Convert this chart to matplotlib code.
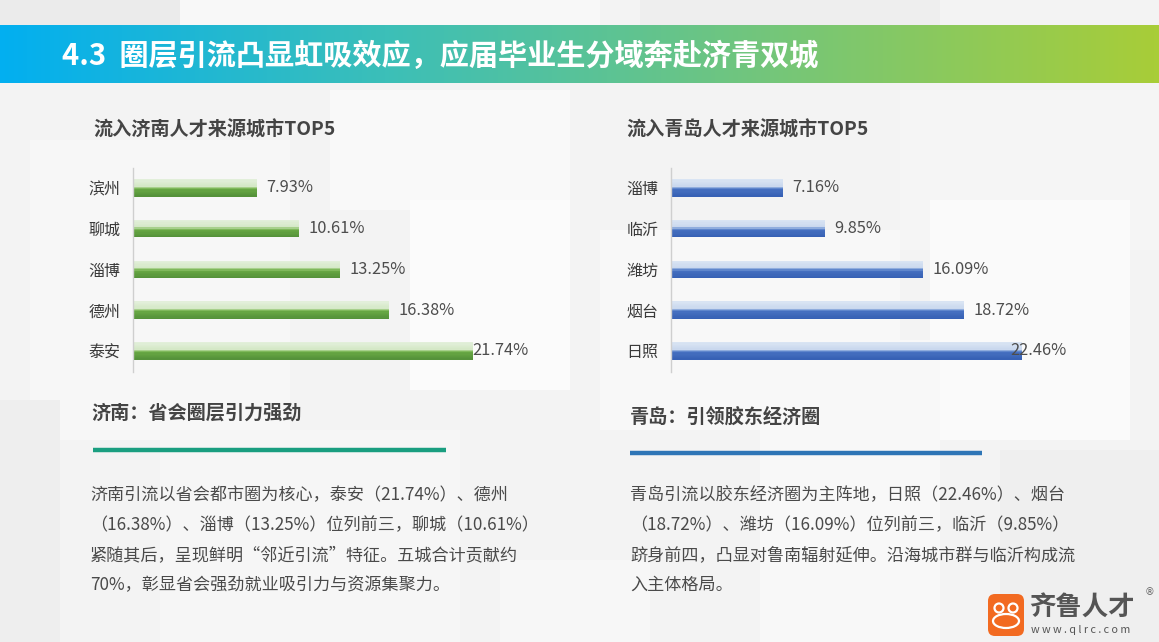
import numpy as np
import matplotlib.pyplot as plt
from matplotlib.colors import LinearSegmentedColormap
from matplotlib.patches import Rectangle, FancyBboxPatch, Ellipse

plt.rcParams['font.family'] = ['Noto Sans CJK SC', 'DejaVu Sans']

# ==========================================
# DATA
# ==========================================
page_title = "4.3  圈层引流凸显虹吸效应，应届毕业生分域奔赴济青双城"

jinan_title = "流入济南人才来源城市TOP5"
jinan_cities = ["滨州", "聊城", "淄博", "德州", "泰安"]
jinan_values = [7.93, 10.61, 13.25, 16.38, 21.74]

qingdao_title = "流入青岛人才来源城市TOP5"
qingdao_cities = ["淄博", "临沂", "潍坊", "烟台", "日照"]
qingdao_values = [7.16, 9.85, 16.09, 18.72, 22.46]

jinan_heading = "济南：省会圈层引力强劲"
jinan_body = [
    "济南引流以省会都市圈为核心，泰安（21.74%）、德州",
    "（16.38%）、淄博（13.25%）位列前三，聊城（10.61%）",
    "紧随其后，呈现鲜明“邻近引流”特征。五城合计贡献约",
    "70%，彰显省会强劲就业吸引力与资源集聚力。",
]

qingdao_heading = "青岛：引领胶东经济圈"
qingdao_body = [
    "青岛引流以胶东经济圈为主阵地，日照（22.46%）、烟台",
    "（18.72%）、潍坊（16.09%）位列前三，临沂（9.85%）",
    "跻身前四，凸显对鲁南辐射延伸。沿海城市群与临沂构成流",
    "入主体格局。",
]

# ==========================================
# FIGURE / BACKGROUND
# ==========================================
W, H = 1159, 642
fig = plt.figure(figsize=(W / 100, H / 100), dpi=100, facecolor='#f3f3f3')

def box(x0, y0, x1, y1):
    return [x0 / W, 1 - y1 / H, (x1 - x0) / W, (y1 - y0) / H]

bg = fig.add_axes([0, 0, 1, 1])
bg.set_xlim(0, W)
bg.set_ylim(H, 0)
bg.axis('off')

# soft geometric tiles in the backdrop
tiles = [(0, 0, 180, 25, '#ebebeb'), (180, 0, 420, 25, '#f8f8f8'),
         (640, 0, 300, 25, '#eeeeee'), (30, 140, 260, 300, '#f7f7f7'),
         (330, 90, 240, 120, '#f9f9f9'), (410, 200, 160, 190, '#fbfbfb'),
         (600, 230, 300, 200, '#f8f8f8'), (900, 90, 259, 160, '#f5f5f5'),
         (930, 200, 200, 240, '#fafafa'), (160, 430, 300, 212, '#f6f6f6'),
         (760, 340, 180, 302, '#f8f8f8'), (1000, 450, 159, 192, '#efefef'),
         (0, 400, 60, 242, '#eeeeee'), (500, 560, 150, 82, '#f7f7f7')]
for x, y, w, h, c in tiles:
    bg.add_patch(Rectangle((x, y), w, h, color=c, lw=0, zorder=0))

# title banner
banner_cmap = LinearSegmentedColormap.from_list(
    'banner', ['#02aff0', '#3cbfb8', '#74c67a', '#a8cd38'])
bg.imshow(np.linspace(0, 1, 256)[None, :], cmap=banner_cmap, aspect='auto',
          extent=[0, W, 83, 25], zorder=2)
bg.set_xlim(0, W)
bg.set_ylim(H, 0)
bg.text(62, 56, page_title, color='white', fontsize=21, fontweight='bold',
        va='center', ha='left', zorder=3)

# ==========================================
# BAR CHARTS
# ==========================================
green_cmap = LinearSegmentedColormap.from_list(
    'g', [(0, '#e2efda'), (0.4, '#d4e8c6'), (0.5, '#8dc26a'),
          (0.6, '#67a743'), (1.0, '#55923a')])
blue_cmap = LinearSegmentedColormap.from_list(
    'b', [(0, '#d9e4f3'), (0.4, '#c9d8ee'), (0.5, '#6e93d3'),
          (0.6, '#4670c0'), (1.0, '#3761b5')])

def draw_chart(rect, cities, values, cmap):
    ax = fig.add_axes(rect)
    ax.patch.set_alpha(0)
    ax.set_xlim(0, 27.3)
    ax.set_ylim(len(cities) - 1 + 0.52, -0.49)
    pos = np.arange(len(cities))
    bar_h = 0.43
    n = 14
    for i in range(n):
        off = -bar_h / 2 + (i + 0.5) * bar_h / n
        ax.barh(pos + off, values, height=bar_h / n + 0.002,
                color=cmap(i / (n - 1)), linewidth=0)
    for p, v in zip(pos, values):
        ax.text(min(v + 0.6, 21.7), p, f'{v:.2f}%', va='center', ha='left',
                fontsize=11.8, color='#4d4d4d', fontweight='medium')
    ax.set_yticks(pos)
    ax.set_yticklabels(cities, fontsize=11.5, color='#3a3a3a', fontweight='medium')
    ax.set_xticks([])
    ax.tick_params(axis='y', length=0, pad=9)
    for s in ['top', 'right', 'bottom']:
        ax.spines[s].set_visible(False)
    ax.spines['left'].set_color('#cfcfcf')
    ax.spines['left'].set_linewidth(1)
    return ax

draw_chart(box(133, 168, 560, 372), jinan_cities, jinan_values, green_cmap)
draw_chart(box(671, 168, 1098, 372), qingdao_cities, qingdao_values, blue_cmap)

bg.text(93, 130, jinan_title, fontsize=13.8, fontweight='bold', color='#444444',
        va='center', ha='left', zorder=3)
bg.text(626, 130, qingdao_title, fontsize=13.8, fontweight='bold', color='#444444',
        va='center', ha='left', zorder=3)

# ==========================================
# TEXT SECTIONS
# ==========================================
bg.text(91, 413, jinan_heading, fontsize=13.8, fontweight='bold', color='#444444',
        va='center', ha='left', zorder=3)
bg.plot([93, 446], [450, 450], color='#1a9e80', lw=3.2, solid_capstyle='butt', zorder=3)
bg.text(630, 417, qingdao_heading, fontsize=13.8, fontweight='bold', color='#444444',
        va='center', ha='left', zorder=3)
bg.plot([630, 982], [453, 453], color='#2e75b6', lw=3.2, solid_capstyle='butt', zorder=3)

for k, line in enumerate(jinan_body):
    bg.text(90, 495 + 30 * k, line, fontsize=12.3, color='#4a4a4a',
            va='center', ha='left', zorder=3)
for k, line in enumerate(qingdao_body):
    bg.text(630, 495 + 30 * k, line, fontsize=12.3, color='#4a4a4a',
            va='center', ha='left', zorder=3)

# ==========================================
# LOGO
# ==========================================
bg.add_patch(FancyBboxPatch((988, 594), 36, 42, boxstyle='round,pad=0,rounding_size=7',
                            color='#f26a21', lw=0, zorder=4))
bg.add_patch(Ellipse((1006, 621), 26, 14, fill=False, ec='white', lw=1.6, zorder=5))
bg.add_patch(Ellipse((999, 608), 9, 9, fill=False, ec='white', lw=1.6, zorder=5))
bg.add_patch(Ellipse((1013, 608), 9, 9, fill=False, ec='white', lw=1.6, zorder=5))
bg.text(1029, 608, "齐鲁人才", fontsize=19, fontweight='bold', color='#555555',
        va='center', ha='left', zorder=5)
bg.text(1031, 630, "w w w . q l r c . c o m", fontsize=7.8, color='#555555',
        va='center', ha='left', zorder=5)
bg.text(1145, 592, "®", fontsize=7, color='#666666', va='center', ha='left',
        family='DejaVu Sans', zorder=5)

fig.savefig('out.png', dpi=100, facecolor=fig.get_facecolor())
